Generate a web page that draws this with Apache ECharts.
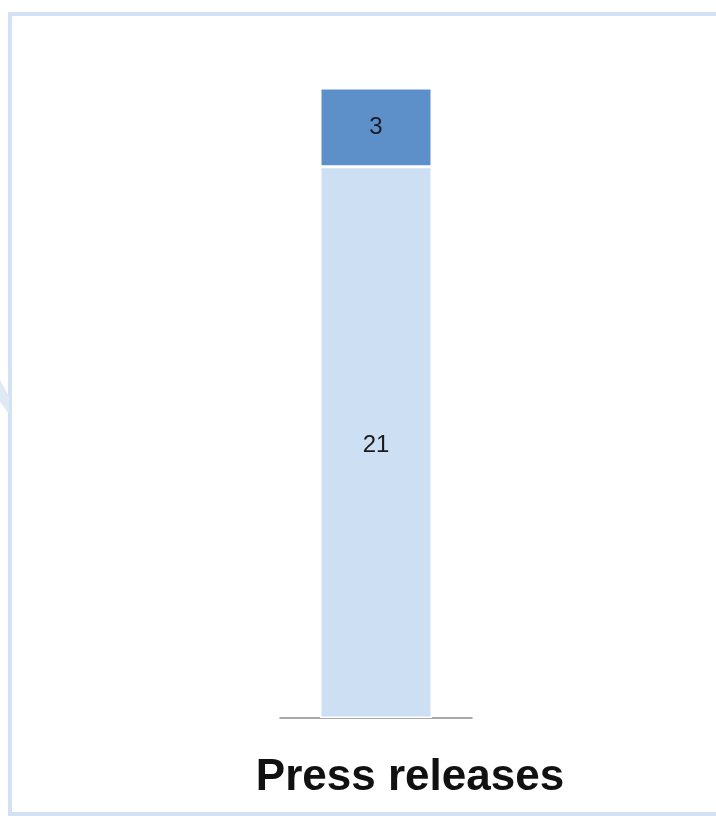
<!DOCTYPE html>
<html>
<head>
<meta charset="utf-8">
<script src="https://cdn.jsdelivr.net/npm/echarts@6/dist/echarts.min.js"></script>
<style>html,body{margin:0;padding:0;background:#fff;}#c{width:716px;height:818px;}</style>
</head>
<body>
<div id="c"></div>
<script>
const categories = ['Press releases'];
const seriesBottom = [21];
const seriesTop = [3];
const axisMax = 24;

const chart = echarts.init(document.getElementById('c'));
chart.setOption({
  animation: false,
  backgroundColor: '#ffffff',
  grid: { left: 280, width: 192, top: 88, bottom: 100, containLabel: false },
  xAxis: {
    type: 'category',
    data: categories,
    axisLine: { show: true, lineStyle: { color: '#8a8a8a', width: 1.5 } },
    axisTick: { show: false },
    axisLabel: { show: false }
  },
  yAxis: {
    type: 'value', min: 0, max: axisMax, show: false,
    splitLine: { show: false }
  },
  graphic: [
    { type: 'rect', shape: { x: 10, y: 14, width: 730, height: 800 },
      style: { fill: 'none', stroke: '#d3e2f3', lineWidth: 4 }, z: -1 },
    { type: 'polygon', shape: { points: [[0, 380], [9, 396], [9, 414], [0, 402]] },
      style: { fill: '#dfe9f6' }, z: -1 },
    { type: 'text', x: 410, y: 778,
      style: { text: categories[0], fontFamily: 'Liberation Sans, Arial, sans-serif', fontWeight: 'bold', fontSize: 44,
        fill: '#111111', align: 'center', verticalAlign: 'middle' } }
  ],
  series: [
    {
      type: 'bar', stack: 's', data: seriesBottom, barWidth: 112,
      itemStyle: { color: '#cddff2', borderColor: '#ffffff', borderWidth: 1.5 },
      label: { show: true, position: 'inside', offset: [0, 3], color: '#1a1a1a', fontSize: 24, fontFamily: 'Liberation Sans, Arial, sans-serif' }
    },
    {
      type: 'bar', stack: 's', data: seriesTop, barWidth: 112,
      itemStyle: { color: '#5d90c8', borderColor: '#ffffff', borderWidth: 1.5 },
      label: { show: true, position: 'inside', color: '#1a1a2a', fontSize: 24, fontFamily: 'Liberation Sans, Arial, sans-serif' }
    }
  ]
});
</script>
</body>
</html>
